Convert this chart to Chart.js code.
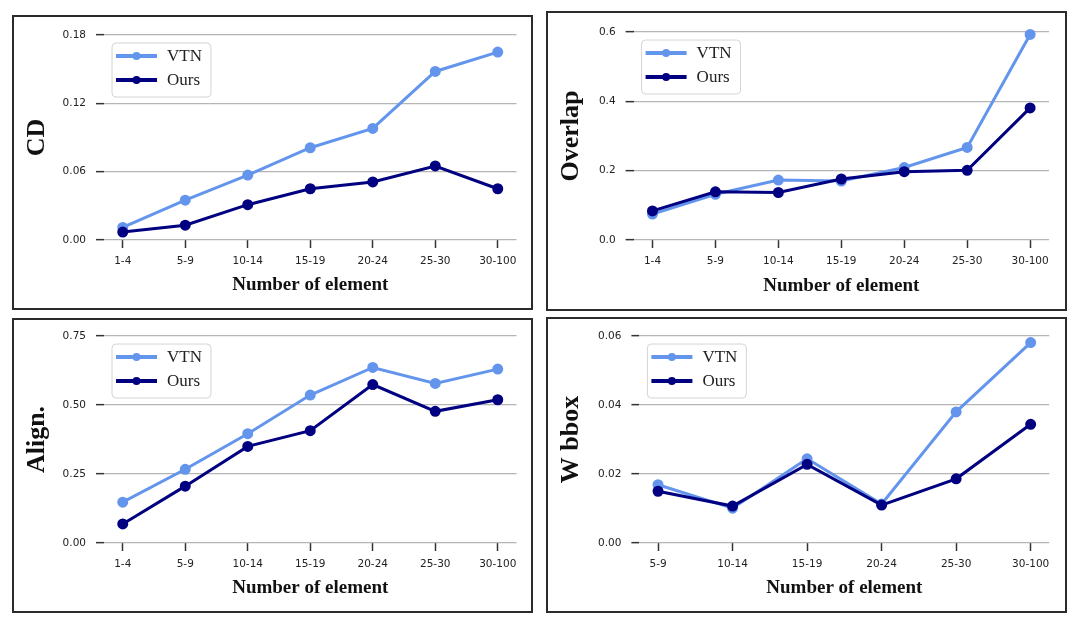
<!DOCTYPE html>
<html>
<head>
<meta charset="utf-8">
<script src="https://cdn.jsdelivr.net/npm/chart.js@4/dist/chart.umd.min.js"></script>
<style>
	body { margin: 0; background: #fff; width: 1080px; height: 625px; overflow: hidden; }
	canvas { position: absolute; }
</style>
</head>
<body>
<canvas id="cdChart" width="521" height="295" style="left:12px;top:15px"></canvas>
<canvas id="overlapChart" width="521" height="300" style="left:546px;top:11px"></canvas>
<canvas id="alignChart" width="521" height="295" style="left:12px;top:318px"></canvas>
<canvas id="wbboxChart" width="521" height="296" style="left:546px;top:317px"></canvas>
<script>
const vtnColor = '#6495ed'
const oursColor = '#000080'

// categories
const groups7 = ['1-4', '5-9', '10-14', '15-19', '20-24', '25-30', '30-100']
const groups6 = ['5-9', '10-14', '15-19', '20-24', '25-30', '30-100']

// CD
const cdVTN = [0.011, 0.035, 0.057, 0.081, 0.098, 0.148, 0.165]
const cdOurs = [0.007, 0.013, 0.031, 0.045, 0.051, 0.065, 0.045]
const cdTicks = ['0.00', '0.06', '0.12', '0.18']

// Overlap
const overlapVTN = [0.075, 0.132, 0.173, 0.170, 0.209, 0.267, 0.593]
const overlapOurs = [0.084, 0.139, 0.137, 0.176, 0.197, 0.201, 0.381]
const overlapTicks = ['0.0', '0.2', '0.4', '0.6']

// Align.
const alignVTN = [0.148, 0.267, 0.396, 0.536, 0.636, 0.578, 0.630]
const alignOurs = [0.069, 0.206, 0.350, 0.407, 0.574, 0.477, 0.519]
const alignTicks = ['0.00', '0.25', '0.50', '0.75']

// W bbox
const wbboxVTN = [0.0169, 0.0101, 0.0244, 0.0113, 0.0380, 0.0581]
const wbboxOurs = [0.0150, 0.0107, 0.0228, 0.0110, 0.0186, 0.0344]
const wbboxTicks = ['0.00', '0.02', '0.04', '0.06']

const xTitle = 'Number of element'

// legend box drawn inside the plot, matplotlib style
const legendBox = {
	id: 'legendBox',
	afterDatasetsDraw(chart) {
		var ctx = chart.ctx
		var area = chart.chartArea
		var sets = chart.data.datasets
		var x = area.left + 8
		var y = area.top + 8
		ctx.save()
		ctx.font = '17px "Liberation Serif", serif'
		var tw = 0
		for (var i = 0; i < sets.length; i++) {
			tw = Math.max(tw, ctx.measureText(sets[i].label).width)
		}
		var w = 55 + tw + 9
		var h = 54
		ctx.beginPath()
		ctx.roundRect(x, y, w, h, 4)
		ctx.fillStyle = 'rgba(255,255,255,0.85)'
		ctx.fill()
		ctx.strokeStyle = '#d4d4d4'
		ctx.lineWidth = 1
		ctx.stroke()
		for (var i = 0; i < sets.length; i++) {
			var ry = y + 13 + i * 24
			ctx.strokeStyle = sets[i].borderColor
			ctx.lineWidth = 4
			ctx.beginPath()
			ctx.moveTo(x + 4, ry)
			ctx.lineTo(x + 45, ry)
			ctx.stroke()
			ctx.fillStyle = sets[i].borderColor
			ctx.beginPath()
			ctx.arc(x + 24.5, ry, 4, 0, Math.PI * 2)
			ctx.fill()
			ctx.fillStyle = '#222'
			ctx.textBaseline = 'middle'
			ctx.fillText(sets[i].label, x + 55, ry + 1)
		}
		ctx.restore()
	}
}

const frame = {
	id: 'frame',
	afterDraw(chart) {
		var ctx = chart.ctx
		ctx.save()
		ctx.strokeStyle = '#2b2b2b'
		ctx.lineWidth = 2
		ctx.strokeRect(1, 1, chart.width - 2, chart.height - 2)
		ctx.restore()
	}
}

function makePanel(id, groups, vtn, ours, tickLabels, yTitle, box) {
	var ticks = tickLabels.map(function (t) { return parseFloat(t) })
	var margin = (groups.length - 1) * 0.05
	return new Chart(document.getElementById(id), {
		type: 'line',
		data: {
			datasets: [{
				label: 'VTN',
				data: vtn.map(function (v, i) { return { x: i, y: v } }),
				borderColor: vtnColor,
				backgroundColor: vtnColor,
				borderWidth: 3,
				pointRadius: 4,
				pointHoverRadius: 4,
				tension: 0,
				order: 2,
				clip: false
			}, {
				label: 'Ours',
				data: ours.map(function (v, i) { return { x: i, y: v } }),
				borderColor: oursColor,
				backgroundColor: oursColor,
				borderWidth: 3,
				pointRadius: 4,
				pointHoverRadius: 4,
				tension: 0,
				order: 1,
				clip: false
			}]
		},
		options: {
			responsive: false,
			animation: false,
			layout: { padding: { top: box.top, right: box.right, left: 0, bottom: 0 } },
			plugins: { legend: { display: false }, tooltip: { enabled: false } },
			scales: {
				x: {
					type: 'linear',
					min: -margin,
					max: groups.length - 1 + margin,
					afterBuildTicks: function (scale) {
						scale.ticks = groups.map(function (g, i) { return { value: i } })
					},
					afterFit: function (scale) { scale.height = box.xh },
					ticks: {
						autoSkip: false,
						maxRotation: 0,
						padding: 7,
						color: '#222',
						font: { family: '"DejaVu Sans"', size: 10.5 },
						callback: function (v) { return groups[v] }
					},
					grid: { drawOnChartArea: false, tickLength: 8, tickColor: '#333', tickWidth: 1.5 },
					border: { display: false },
					title: {
						display: true,
						text: xTitle,
						color: '#111',
						font: { family: '"Liberation Serif"', size: 19, weight: 'bold' },
						padding: { top: 0, bottom: 14 }
					}
				},
				y: {
					min: ticks[0],
					max: ticks[ticks.length - 1],
					afterBuildTicks: function (scale) {
						scale.ticks = ticks.map(function (t) { return { value: t } })
					},
					afterFit: function (scale) { scale.width = box.yw },
					ticks: {
						padding: 10,
						color: '#222',
						font: { family: '"DejaVu Sans"', size: 10.5 },
						callback: function (v) { return tickLabels[ticks.indexOf(v)] }
					},
					grid: { color: '#b5b5b5', lineWidth: 1.3, tickLength: 8, tickColor: '#333', tickWidth: 1.5 },
					border: { display: false },
					title: {
						display: true,
						text: yTitle,
						color: '#111',
						font: { family: '"Liberation Serif"', size: 26, weight: 'bold' },
						padding: { top: 10, bottom: 0 }
					}
				}
			}
		},
		plugins: [legendBox, frame]
	})
}

makePanel('cdChart', groups7, cdVTN, cdOurs, cdTicks, 'CD', { yw: 92, top: 20, right: 16.5, xh: 70 })
makePanel('overlapChart', groups7, overlapVTN, overlapOurs, overlapTicks, 'Overlap', { yw: 87.6, top: 21, right: 18, xh: 71 })
makePanel('alignChart', groups7, alignVTN, alignOurs, alignTicks, 'Align.', { yw: 92, top: 18, right: 16.5, xh: 70 })
makePanel('wbboxChart', groups6, wbboxVTN, wbboxOurs, wbboxTicks, 'W bbox', { yw: 93.4, top: 19, right: 17.7, xh: 70 })
</script>
</body>
</html>
